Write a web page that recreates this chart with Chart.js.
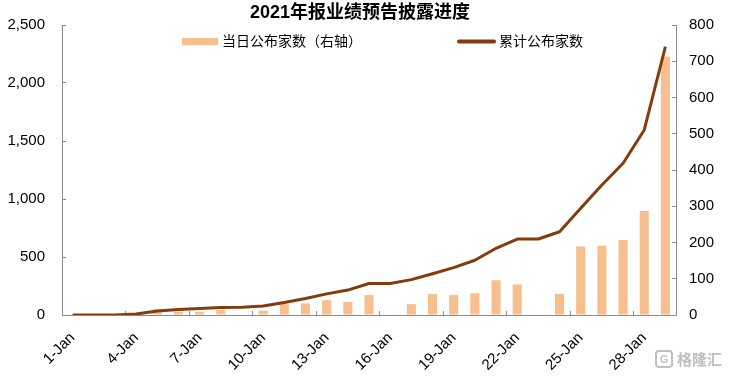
<!DOCTYPE html>
<html><head><meta charset="utf-8">
<script src="https://cdn.jsdelivr.net/npm/chart.js@4/dist/chart.umd.min.js"></script>
<style>html,body{margin:0;padding:0;background:#fff}#wrap{width:730px;height:376px;position:relative}canvas{display:block}</style>
</head><body><div id="wrap"><canvas id="c" width="730" height="376"></canvas></div>
<script>
const categories = ['1-Jan','2-Jan','3-Jan','4-Jan','5-Jan','6-Jan','7-Jan','8-Jan','9-Jan','10-Jan','11-Jan','12-Jan','13-Jan','14-Jan','15-Jan','16-Jan','17-Jan','18-Jan','19-Jan','20-Jan','21-Jan','22-Jan','23-Jan','24-Jan','25-Jan','26-Jan','27-Jan','28-Jan','29-Jan'];
const dailyCount = [0,0,0,3,16,9,9,14,0,12,30,32,41,36,55,0,30,58,55,60,96,84,0,58,189,191,207,287,713];
const cumulativeCount = [0,0,0,8,35,48,55,65,67,78,108,142,182,215,272,272,305,355,408,472,575,655,655,718,920,1121,1308,1595,2313];
const leftTicks = [0,500,1000,1500,2000,2500];
const rightTicks = [0,100,200,300,400,500,600,700,800];
const titleText = '2021年报业绩预告披露进度';
const barLabel = '当日公布家数（右轴）';
const lineLabel = '累计公布家数';
const watermarkText = '格隆汇';

const barColor = '#F8BF8E';
const lineColor = '#843C0C';
const axisColor = '#898989';
const FONT = '"Liberation Sans", Arial, "Noto Sans CJK SC", sans-serif';

const overlayPlugin = {
  id: 'overlay',
  afterDraw(chart) {
    const ctx = chart.ctx;
    ctx.save();
    // title
    ctx.font = 'bold 18px ' + FONT;
    ctx.fillStyle = '#000';
    ctx.textAlign = 'center';
    ctx.textBaseline = 'middle';
    ctx.fillText(titleText, 360, 13);
    // legend
    ctx.font = '14px ' + FONT;
    ctx.textAlign = 'left';
    ctx.fillStyle = barColor;
    ctx.fillRect(182, 38, 36, 7);
    ctx.fillStyle = '#000';
    ctx.fillText(barLabel, 222, 42);
    ctx.strokeStyle = lineColor;
    ctx.lineWidth = 4;
    ctx.lineCap = 'round';
    ctx.beginPath(); ctx.moveTo(459, 41.5); ctx.lineTo(494, 41.5); ctx.stroke();
    ctx.fillStyle = '#000';
    ctx.fillText(lineLabel, 499, 42);
    // watermark
    ctx.strokeStyle = 'rgba(175,175,175,0.8)';
    ctx.lineWidth = 2;
    ctx.lineCap = 'butt';
    ctx.beginPath();
    if (ctx.roundRect) { ctx.roundRect(656, 351, 16, 16, 3); } else { ctx.rect(656, 351, 16, 16); }
    ctx.stroke();
    ctx.font = 'bold 11px ' + FONT;
    ctx.fillStyle = 'rgba(175,175,175,0.8)';
    ctx.textAlign = 'center';
    ctx.fillText('G', 664, 359.5);
    ctx.textAlign = 'left';
    ctx.font = 'bold 15px "Noto Sans CJK SC", sans-serif';
    ctx.fillText(watermarkText, 677, 359);
    ctx.restore();
  }
};

new Chart(document.getElementById('c'), {
  type: 'bar',
  data: {
    labels: categories,
    datasets: [
      { type: 'line', label: lineLabel, data: cumulativeCount, yAxisID: 'yL', borderColor: lineColor, backgroundColor: lineColor, borderWidth: 3, pointRadius: 0, tension: 0, order: 0, borderJoinStyle: 'round' },
      { type: 'bar', label: barLabel, data: dailyCount, yAxisID: 'yR', backgroundColor: barColor, barPercentage: 0.43, categoryPercentage: 1, order: 1 }
    ]
  },
  options: {
    responsive: false,
    maintainAspectRatio: false,
    animation: false,
    devicePixelRatio: 1,
    layout: { padding: { top: 25, left: 0, right: 0, bottom: 0 } },
    plugins: {
      legend: { display: false },
      tooltip: { enabled: false },
      title: { display: false }
    },
    scales: {
      x: {
        offset: true,
        grid: { offset: true, drawOnChartArea: false, drawTicks: true, tickLength: -4, color: c => (c.index % 3 === 0 ? axisColor : 'rgba(0,0,0,0)') },
        border: { color: axisColor, width: 1 },
        ticks: { autoSkip: false, maxRotation: 45, minRotation: 45, color: '#000', font: { family: FONT, size: 15 }, padding: 18,
          callback: (v, i) => (i % 3 === 0 ? categories[i] : '') },
        afterFit: s => { s.height = 61; }
      },
      yL: {
        position: 'left', min: 0, max: 2500,
        afterBuildTicks: s => { s.ticks = leftTicks.map(v => ({ value: v })); },
        grid: { drawOnChartArea: false, tickLength: -4, color: axisColor },
        border: { color: axisColor, width: 1 },
        ticks: { color: '#000', font: { family: FONT, size: 15 }, padding: 21, callback: v => v.toLocaleString('en-US') },
        afterFit: s => { s.width = 62; s.paddingTop = 0; s.paddingBottom = 0; }
      },
      yR: {
        position: 'right', min: 0, max: 800,
        afterBuildTicks: s => { s.ticks = rightTicks.map(v => ({ value: v })); },
        grid: { drawOnChartArea: false, tickLength: -4, color: axisColor },
        border: { color: axisColor, width: 1 },
        ticks: { color: '#000', font: { family: FONT, size: 15 }, padding: 17 },
        afterFit: s => { s.width = 54; s.paddingTop = 0; s.paddingBottom = 0; }
      }
    }
  },
  plugins: [overlayPlugin]
});
</script>
</body></html>
